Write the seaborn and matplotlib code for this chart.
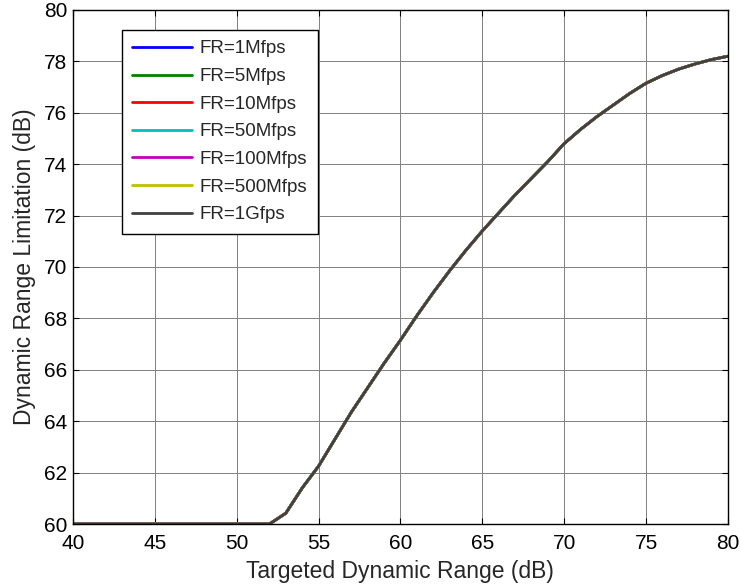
import numpy as np
import pandas as pd
import matplotlib
matplotlib.use("Agg")
import matplotlib.pyplot as plt
import seaborn as sns

# targeted dynamic range (dB)
target_dr = [40, 41, 42, 43, 44, 45, 46, 47, 48, 49, 50, 51, 52, 53, 54, 55,
             56, 57, 58, 59, 60, 61, 62, 63, 64, 65, 66, 67, 68, 69, 70, 71,
             72, 73, 74, 75, 76, 77, 78, 79, 80]
# dynamic range limitation (dB), same for every frame rate (curves overlap)
dr_limit = [60.0, 60.0, 60.0, 60.0, 60.0, 60.0, 60.0, 60.0, 60.0, 60.0, 60.0,
            60.0, 60.0, 60.42, 61.4, 62.25, 63.3, 64.35, 65.3, 66.25, 67.15,
            68.1, 69.0, 69.85, 70.65, 71.4, 72.1, 72.8, 73.45, 74.1, 74.8,
            75.35, 75.85, 76.3, 76.75, 77.15, 77.45, 77.7, 77.9, 78.07, 78.2]
frame_rates = ['FR=1Mfps', 'FR=5Mfps', 'FR=10Mfps', 'FR=50Mfps',
               'FR=100Mfps', 'FR=500Mfps', 'FR=1Gfps']
colors = ['#0000ff', '#008000', '#ff0000', '#00bfbf', '#bf00bf', '#bfbf00',
          '#404040']

frames = []
for fr in frame_rates:
    frames.append(pd.DataFrame({'x': target_dr, 'y': dr_limit, 'FR': fr}))
df = pd.concat(frames, ignore_index=True)

sns.set_style("ticks")
plt.rcParams['font.family'] = ['Liberation Sans', 'DejaVu Sans']

fig = plt.figure(figsize=(7.4, 5.87), dpi=100)
ax = fig.add_axes([0.0986, 0.1073, 0.885, 0.8757])

sns.lineplot(data=df, x='x', y='y', hue='FR', palette=colors,
             hue_order=frame_rates, estimator=None, sort=False,
             linewidth=2.0, ax=ax, legend=False)

ax.set_xlim(40, 80)
ax.set_ylim(60, 80)
ax.set_xticks(range(40, 81, 5))
ax.set_yticks(range(60, 81, 2))
ax.grid(True, color='#808080', linewidth=0.7)
ax.set_axisbelow(True)
for s in ax.spines.values():
    s.set_visible(True)
    s.set_color('black')
    s.set_linewidth(1.0)
ax.tick_params(direction='in', length=4, width=0.8, top=True, right=True,
               labelsize=15, colors='black')
ax.tick_params(axis='x', pad=7)
ax.tick_params(axis='y', pad=4)
ax.set_xlabel('Targeted Dynamic Range (dB)', fontsize=16.5, labelpad=5)
ax.set_ylabel('Dynamic Range Limitation (dB)', fontsize=16.5, labelpad=6)

handles = [plt.Line2D([], [], color=c, linewidth=2.0) for c in colors]
leg = ax.legend(handles, frame_rates, loc='upper left',
                bbox_to_anchor=(0.0748, 0.961), borderaxespad=0,
                fontsize=13.5, handlelength=3.2, handletextpad=0.4,
                labelspacing=0.56, borderpad=0.55, fancybox=False,
                framealpha=1, edgecolor='black')
leg.get_frame().set_linewidth(1.0)

fig.savefig('out.png', dpi=100)
